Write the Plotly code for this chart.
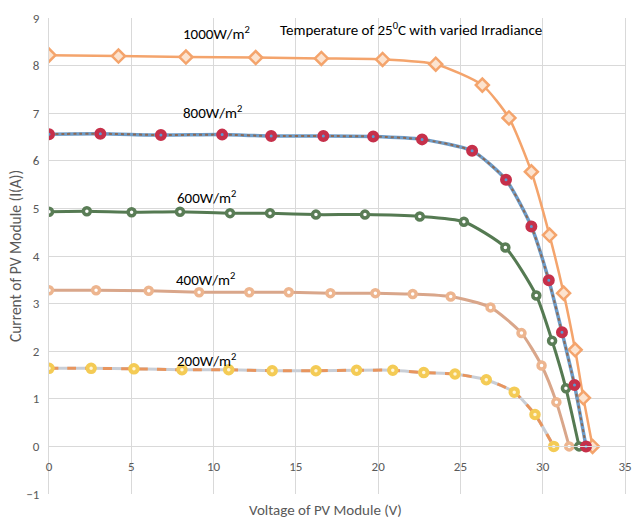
import plotly.graph_objects as go

v1000 = [0, 4.22, 8.32, 12.56, 16.55, 20.27, 23.5, 26.33, 27.95, 29.31, 30.41, 31.27, 31.97, 32.47, 33.03]
i1000 = [8.22, 8.20, 8.18, 8.17, 8.15, 8.13, 8.03, 7.59, 6.90, 5.77, 4.44, 3.22, 2.03, 1.02, 0]

v800 = [0, 3.12, 6.8, 10.52, 13.5, 16.67, 19.7, 22.67, 25.71, 27.77, 29.31, 30.37, 31.17, 31.93, 32.63]
i800 = [6.56, 6.57, 6.54, 6.55, 6.52, 6.52, 6.51, 6.45, 6.21, 5.60, 4.62, 3.49, 2.40, 1.29, 0]

v600 = [0, 2.3, 5.02, 7.96, 11.0, 13.43, 16.22, 19.2, 22.53, 25.21, 27.73, 29.61, 30.57, 31.41, 32.21]
i600 = [4.93, 4.94, 4.92, 4.93, 4.90, 4.90, 4.87, 4.87, 4.83, 4.72, 4.18, 3.17, 2.22, 1.22, 0]

v400 = [0, 2.86, 6.06, 9.12, 12.17, 14.57, 17.1, 19.83, 22.1, 24.41, 26.83, 28.71, 29.93, 30.83, 31.61]
i400 = [3.28, 3.28, 3.27, 3.24, 3.24, 3.24, 3.22, 3.22, 3.20, 3.15, 2.92, 2.38, 1.70, 0.93, 0]

v200 = [0, 2.56, 5.16, 8.08, 10.92, 13.56, 16.22, 18.69, 20.89, 22.77, 24.67, 26.57, 28.27, 29.53, 30.67]
i200 = [1.64, 1.64, 1.63, 1.61, 1.61, 1.59, 1.59, 1.60, 1.60, 1.55, 1.52, 1.40, 1.14, 0.67, 0]

labels = ["1000W/m<sup>2</sup>", "800W/m<sup>2</sup>", "600W/m<sup>2</sup>", "400W/m<sup>2</sup>", "200W/m<sup>2</sup>"]
label_x = [10.2, 9.96, 9.54, 9.48, 9.54]
label_y = [8.68, 7.02, 5.24, 3.52, 1.82]

title_text = "Temperature of 25<sup>0</sup>C with varied Irradiance"
x_title = "Voltage of PV Module (V)"
y_title = "Current of PV Module (I(A))"
x_ticks = [0, 5, 10, 15, 20, 25, 30, 35]
y_ticks = [-1, 0, 1, 2, 3, 4, 5, 6, 7, 8, 9]

FONT = "Carlito, Lato, sans-serif"
SM = 0.6

fig = go.Figure()

# 1000 W/m2
fig.add_trace(go.Scatter(x=v1000, y=i1000, mode="lines+markers",
    line=dict(color="#F4A46C", width=2.5, shape="spline", smoothing=SM),
    marker=dict(symbol="diamond", size=10, color="#FCE3CF", line=dict(color="#F4A46C", width=2.5))))
# 400 W/m2
fig.add_trace(go.Scatter(x=v400, y=i400, mode="lines+markers",
    line=dict(color="#D9A68A", width=3, shape="spline", smoothing=SM),
    marker=dict(symbol="circle", size=7, color="#FFFFFF", line=dict(color="#EDB58F", width=3.5))))
# 200 W/m2 (gray base + orange dashes)
fig.add_trace(go.Scatter(x=v200, y=i200, mode="lines",
    line=dict(color="#C9CED6", width=3, shape="spline", smoothing=SM), hoverinfo="skip"))
fig.add_trace(go.Scatter(x=v200, y=i200, mode="lines+markers",
    line=dict(color="#E8955E", width=3, dash="dash", shape="spline", smoothing=SM),
    marker=dict(symbol="circle", size=7.5, color="#FFF6D8", line=dict(color="#F4CB55", width=4))))
# 600 W/m2
fig.add_trace(go.Scatter(x=v600, y=i600, mode="lines+markers",
    line=dict(color="#557A52", width=3, shape="spline", smoothing=SM),
    marker=dict(symbol="circle", size=7, color="#FFFFFF", line=dict(color="#5A7D56", width=3.5))))
# 800 W/m2 (blue base + brown dots)
fig.add_trace(go.Scatter(x=v800, y=i800, mode="lines",
    line=dict(color="#6E9CC8", width=3.5, shape="spline", smoothing=SM), hoverinfo="skip"))
fig.add_trace(go.Scatter(x=v800, y=i800, mode="lines+markers",
    line=dict(color="#8C6A55", width=2, dash="dot", shape="spline", smoothing=SM),
    marker=dict(symbol="circle", size=7.5, color="#5B9BD5", line=dict(color="#C6304A", width=4.5))))

for t, x, y in zip(labels, label_x, label_y):
    fig.add_annotation(x=x, y=y, text=t, showarrow=False, xref="x", yref="y",
                       font=dict(family=FONT, size=15, color="#000000"))

fig.add_annotation(x=21.97, y=8.76, text=title_text, showarrow=False, xref="x", yref="y",
                   font=dict(family=FONT, size=15, color="#000000"))

fig.add_annotation(x=(329 - 49) / (632 - 49), y=-(510 - 494) / 476, xref="paper", yref="paper",
                   text=x_title, showarrow=False, yanchor="middle",
                   font=dict(family=FONT, size=15, color="#595959"))

fig.update_layout(
    width=640, height=521,
    margin=dict(l=49, r=8, t=18, b=27),
    paper_bgcolor="white", plot_bgcolor="white",
    showlegend=False,
    font=dict(family=FONT, size=13, color="#595959"),
    xaxis=dict(range=[0, 35], tickvals=x_ticks, showgrid=True, gridcolor="#D9D9D9", gridwidth=1,
               zeroline=False, showline=True, mirror=True, linecolor="#D9D9D9",
               anchor="free", position=0.1, ticks="", ticklen=0, ticklabelstandoff=8,
               tickfont=dict(family=FONT, size=13, color="#595959")),
    yaxis=dict(range=[-1, 9], tickvals=y_ticks, showgrid=True, gridcolor="#D9D9D9", gridwidth=1,
               zeroline=True, zerolinecolor="#D9D9D9", zerolinewidth=1,
               showline=True, mirror=True, linecolor="#D9D9D9", ticklabelstandoff=6,
               title=dict(text=y_title, font=dict(family=FONT, size=15.5, color="#595959"), standoff=0),
               tickfont=dict(family=FONT, size=13, color="#595959")),
)

fig.write_html("out.html")
